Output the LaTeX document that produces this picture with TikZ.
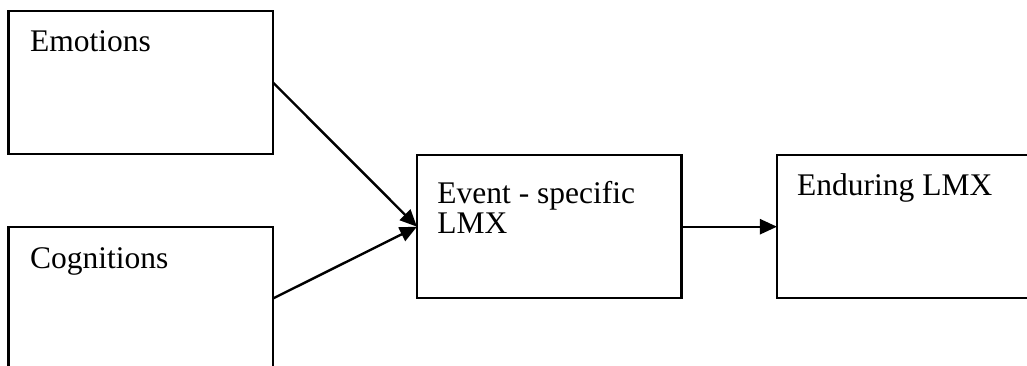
\documentclass[tikz,border=0pt]{standalone}
\usepackage{fontspec}
\setmainfont{Liberation Serif}
\usetikzlibrary{arrows.meta}
\begin{document}
\begin{tikzpicture}[x=1pt,y=-1pt,
  box/.style={draw=black,line width=2.4pt,minimum width=264.5pt,minimum height=143pt,inner sep=0pt,outer sep=0pt},
  lbl/.style={anchor=base west,inner sep=0pt,font=\fontsize{31.5}{36}\selectfont},
  link/.style={line width=2.4pt,-{Triangle[length=17pt,width=15pt]}}]
  \useasboundingbox (0,0) rectangle (1027,366);
  \clip (0,0) rectangle (1027,366);
  % boxes
  \node[box] (emo) at (140.75,82.5) {};
  \node[box] (cog) at (140.75,298.5) {};
  \node[box] (evt) at (549.2,226.7) {};
  \node[box] (end) at (909.2,226.7) {};
  % labels
  \node[lbl] (emoT) at ([shift={(21.5,41)}]emo.north west) {Emotions};
  \node[lbl] (cogT) at ([shift={(21.5,41)}]cog.north west) {Cognitions};
  \node[lbl] (evtT1) at ([shift={(20.3,48)}]evt.north west) {Event - specific};
  \node[lbl] (evtT2) at ([shift={(20.3,78)}]evt.north west) {LMX};
  \node[lbl] (endT) at ([shift={(20,40)}]end.north west) {Enduring LMX};
  % connectors
  \draw[link] (emo.east) -- (evt.west);
  \draw[link] (cog.east) -- (evt.west);
  \draw[link] (evt.east) -- (end.west);
\end{tikzpicture}
\end{document}
